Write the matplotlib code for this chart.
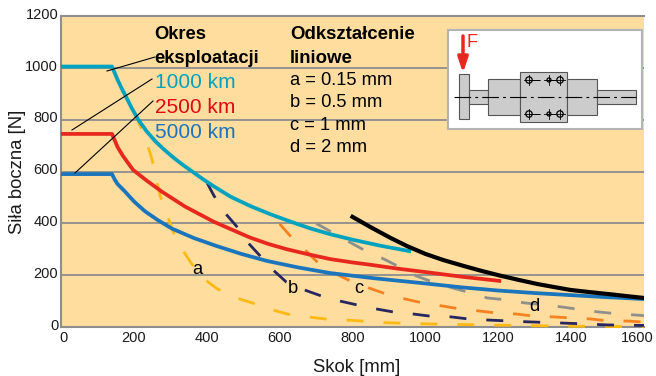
import matplotlib
matplotlib.use('Agg')
import matplotlib.pyplot as plt
import matplotlib.transforms as mtrans
from matplotlib.patches import Rectangle, Circle

plt.rcParams['font.family'] = ['Liberation Sans', 'DejaVu Sans']
plt.rcParams['lines.scale_dashes'] = False

# solid curves: service life
x_1000km = [0, 140, 146, 155, 165, 176, 194, 212, 235, 260, 285, 310, 335, 360, 390, 418, 465, 519, 575, 629, 685, 739, 800, 879, 956]
y_1000km = [1005, 1005, 985, 955, 925, 895, 845, 800, 755, 715, 682, 652, 625, 600, 570, 544, 503, 467, 435, 407, 380, 358, 337, 313, 293]
x_2500km = [0, 140, 146, 155, 170, 198, 235, 277, 340, 418, 465, 519, 570, 620, 680, 739, 800, 850, 925, 1000, 1100, 1203]
y_2500km = [745, 745, 725, 695, 660, 606, 565, 522, 465, 407, 378, 345, 320, 300, 280, 262, 249, 240, 225, 212, 194, 178]
x_5000km = [0, 140, 147, 155, 176, 200, 230, 265, 304, 365, 428, 495, 565, 650, 739, 860, 1000, 1100, 1197, 1300, 1398, 1500, 1600]
y_5000km = [590, 590, 570, 552, 522, 485, 447, 413, 380, 343, 312, 282, 255, 230, 208, 188, 168, 153, 141, 131, 123, 115, 108]
x_limit = [800, 850, 904, 950, 1000, 1050, 1104, 1150, 1203, 1255, 1307, 1350, 1398, 1455, 1516, 1560, 1600]
y_limit = [425, 385, 344, 312, 282, 258, 236, 218, 199, 182, 166, 155, 143, 134, 125, 118, 112]

# dashed curves: linear deformation
x_a = [203, 236, 250, 272, 291, 307, 332, 357, 393, 429, 481, 525, 580, 621, 679, 725, 780, 827, 882, 1000, 1200, 1400, 1600]
y_a = [826, 710, 645, 506, 436, 370, 301, 247, 185, 147, 112, 93, 66, 50, 39, 31, 27, 23, 17, 12, 7, 3, 1]
x_b = [401, 420, 450, 481, 514, 544, 582, 618, 668, 714, 766, 813, 868, 912, 967, 1013, 1071, 1118, 1170, 1280, 1400, 1500, 1600]
y_b = [556, 506, 440, 390, 324, 278, 220, 174, 143, 120, 100, 85, 69, 58, 50, 42, 39, 31, 27, 20, 14, 8, 6]
x_c = [600, 632, 673, 706, 761, 794, 846, 893, 945, 992, 1047, 1093, 1146, 1195, 1250, 1297, 1352, 1401, 1453, 1503, 1555, 1600]
y_c = [398, 347, 293, 247, 200, 178, 150, 127, 108, 93, 81, 70, 62, 54, 50, 42, 39, 35, 31, 23, 23, 19]
x_d = [700, 794, 841, 885, 934, 975, 1027, 1074, 1126, 1170, 1228, 1272, 1330, 1376, 1431, 1475, 1533, 1580, 1600]
y_d = [400, 326, 290, 263, 228, 197, 170, 151, 131, 112, 104, 93, 85, 77, 66, 58, 50, 46, 44]

x_ticks = [0, 200, 400, 600, 800, 1000, 1200, 1400, 1600]
y_ticks = [0, 200, 400, 600, 800, 1000, 1200]

colors = {'teal': '#00a3bf', 'red': '#e8281f', 'blue': '#1b75bc', 'yellow': '#fdb913',
          'navy': '#27265f', 'orange': '#f58220', 'gray': '#8f8f8c'}
axis_gray = '#8e8e8e'

fig = plt.figure(figsize=(6.56, 3.76), dpi=100)
ax = fig.add_axes([61 / 656, 1 - 327 / 376, 583 / 656, 311 / 376])
ax.set_facecolor('#fedd9e')
ax.set_xlim(0, 1600)
ax.set_ylim(0, 1200)

ax.set_xticks(x_ticks)
ax.set_yticks(y_ticks)
ax.tick_params(length=0, labelsize=10.5, pad=2, colors='#1a1a1a')
ax.grid(axis='y', color=axis_gray, lw=1.3, zorder=1)
ax.spines['right'].set_visible(False)
for side in ['left', 'top', 'bottom']:
    ax.spines[side].set_color(axis_gray)
    ax.spines[side].set_linewidth(1.5)

# nudge tick labels the way they sit in the original
for label in ax.get_yticklabels():
    label.set_transform(label.get_transform() + mtrans.ScaledTranslation(0, 2 / 72, fig.dpi_scale_trans))
for label in ax.get_xticklabels():
    label.set_transform(label.get_transform() + mtrans.ScaledTranslation(0, -1 / 72, fig.dpi_scale_trans))
last = ax.get_xticklabels()[-1]
last.set_transform(last.get_transform() + mtrans.ScaledTranslation(-5 / 72, 0, fig.dpi_scale_trans))
first = ax.get_xticklabels()[0]
first.set_transform(first.get_transform() + mtrans.ScaledTranslation(1.5 / 72, 0, fig.dpi_scale_trans))

dash = (0, (12.2, 14.4))
ax.plot(x_a, y_a, color=colors['yellow'], lw=2, ls=dash, zorder=2.6, clip_on=False)
ax.plot(x_b, y_b, color=colors['navy'], lw=2, ls=dash, zorder=2.6)
ax.plot(x_c, y_c, color=colors['orange'], lw=2, ls=dash, zorder=2.6)
ax.plot(x_d, y_d, color=colors['gray'], lw=2, ls=dash, zorder=2.6)

ax.plot(x_1000km, y_1000km, color=colors['teal'], lw=2.7, zorder=3)
ax.plot(x_2500km, y_2500km, color=colors['red'], lw=2.7, zorder=3)
ax.plot(x_5000km, y_5000km, color=colors['blue'], lw=2.7, zorder=3)
ax.plot(x_limit, y_limit, color='black', lw=3, zorder=4)

# overlay in pixel coordinates for texts, leaders and the sketch
ov = fig.add_axes([0, 0, 1, 1])
ov.set_xlim(0, 656)
ov.set_ylim(376, 0)
ov.axis('off')
ov.patch.set_alpha(0)

ov.text(357, 367, 'Skok [mm]', fontsize=13.3, ha='center', va='center', color='#1a1a1a')
ov.text(18, 172, 'Siła boczna [N]', fontsize=13.3, rotation=90, ha='center', va='center', color='#1a1a1a')

ov.text(154, 39, 'Okres', fontsize=13.2, fontweight='bold', va='baseline')
ov.text(154, 63, 'eksploatacji', fontsize=13.2, fontweight='bold', va='baseline')
ov.text(155, 88, '1000 km', fontsize=15, color=colors['teal'], va='baseline')
ov.text(155, 113, '2500 km', fontsize=15, color='#e30613', va='baseline')
ov.text(155, 138, '5000 km', fontsize=15, color=colors['blue'], va='baseline')

ov.text(290, 39, 'Odkształcenie', fontsize=13.4, fontweight='bold', va='baseline')
ov.text(290, 63, 'liniowe', fontsize=13.4, fontweight='bold', va='baseline')
ov.text(290, 85, 'a = 0.15 mm', fontsize=13.2, va='baseline')
ov.text(290, 107, 'b = 0.5 mm', fontsize=13.2, va='baseline')
ov.text(290, 130, 'c = 1 mm', fontsize=13.2, va='baseline')
ov.text(290, 152, 'd = 2 mm', fontsize=13.2, va='baseline')

ov.text(197, 274, 'a', fontsize=13.2, ha='center', va='baseline')
ov.text(293, 293, 'b', fontsize=13.2, ha='center', va='baseline')
ov.text(359, 293, 'c', fontsize=13.2, ha='center', va='baseline')
ov.text(534, 311, 'd', fontsize=13.2, ha='center', va='baseline')

ov.plot([155, 107], [57, 71], color='black', lw=0.8)
ov.plot([152, 72], [79, 130], color='black', lw=0.8)
ov.plot([153, 75], [101, 173], color='black', lw=0.8)

# sketch of the guide
ov.add_patch(Rectangle((448, 30), 194, 99, fc='white', ec='#b4b4b4', lw=1.5))
parts = [(458.5, 74, 10.5, 45), (469, 90, 19, 14), (488, 79, 32, 36),
         (520, 72, 47, 50), (567, 79, 30, 36), (597, 90, 39, 14)]
for px, py, pw, ph in parts:
    ov.add_patch(Rectangle((px, py), pw, ph, fc='#cccccc', ec='#555555', lw=0.8))
ov.plot([454, 636], [97, 97], color='black', lw=0.8, ls=(0, (12, 3, 2, 3)))
for by in [80, 114]:
    ov.plot([529, 560], [by, by], color='black', lw=0.7, ls=(0, (8, 4)))
    for bx, r in [(529, 3.2), (549, 2), (560, 3.2)]:
        ov.add_patch(Circle((bx, by), r, fc='none', ec='black', lw=0.9))
        ov.plot([bx - 5, bx + 5], [by, by], color='black', lw=0.6)
        ov.plot([bx, bx], [by - 5, by + 5], color='black', lw=0.6)
ov.annotate('', xy=(463, 73), xytext=(463, 36),
            arrowprops=dict(arrowstyle='-|>,head_width=0.3,head_length=0.9', color='#e8281f', lw=2.5,
                            shrinkA=0, shrinkB=0))
ov.text(467, 47, 'F', fontsize=13, color='#e8281f', va='baseline')

fig.savefig('out.png', dpi=100)
